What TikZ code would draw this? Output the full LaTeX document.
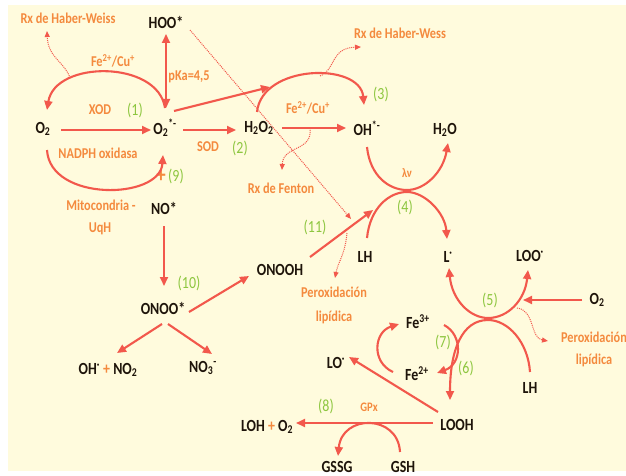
\documentclass[tikz,border=0pt]{standalone}
\usepackage{fontspec}
\setmainfont{Carlito}[FakeStretch=0.82]
\usetikzlibrary{arrows.meta}
\definecolor{bg}{RGB}{255,251,221}
\definecolor{rd}{RGB}{242,88,76}
\definecolor{og}{RGB}{244,138,62}
\definecolor{gn}{RGB}{141,198,63}
\definecolor{bk}{RGB}{30,20,10}
\tikzset{
 sp/.style={font=\fontsize{17}{17}\selectfont\bfseries, text=bk, inner sep=0pt},
 lab/.style={font=\fontsize{15}{15}\selectfont\bfseries, text=og, inner sep=0pt},
 num/.style={font=\fontsize{17}{17}\selectfont, text=gn, inner sep=0pt},
 rx/.style={draw=rd, line width=2.1pt, -{Triangle[length=9pt,width=8pt]}},
 rxb/.style={draw=rd, line width=2.1pt, {Triangle[length=9pt,width=8pt]}-{Triangle[length=9pt,width=8pt]}},
 dotarr/.style={draw=rd, line width=1pt, densely dotted, -{Triangle[length=6pt,width=5pt]}}
}
\begin{document}
\begin{tikzpicture}[x=1pt,y=-1pt]
\useasboundingbox (0,0) rectangle (626,476);
\fill[white] (0,0) rectangle (626,476);
\fill[bg] (8,5) rectangle (626,471);

% species
\node[sp] (hoo) at (166,22) {HOO*};
\node[sp] (o2a) at (43,129) {O\textsubscript{2}};
\node[sp] (o2r) at (165,128) {O\textsubscript{2}\textsuperscript{*-}};
\node[sp] (h2o2) at (259,128) {H\textsubscript{2}O\textsubscript{2}};
\node[sp] (oh) at (367,128) {OH\textsuperscript{*-}};
\node[sp] (h2o) at (445,130) {H\textsubscript{2}O};
\node[sp] (no) at (164,208) {NO*};
\node[sp] (lh1) at (365,257) {LH};
\node[sp] (lrad) at (448,257) {L\textsuperscript{·}};
\node[sp] (loo) at (530,256) {LOO\textsuperscript{·}};
\node[sp] (onooh) at (280,270) {ONOOH};
\node[sp] (onoo) at (163,308) {ONOO*};
\node[sp] (o2b) at (597,300) {O\textsubscript{2}};
\node[sp] (fe3) at (418,322) {Fe\textsuperscript{3+}};
\node[sp] (fe2) at (417,374) {Fe\textsuperscript{2+}};
\node[sp] (lo) at (336,363) {LO\textsuperscript{·}};
\node[sp] (lh2) at (530,388) {LH};
\node[sp] (ohno) at (108,370) {OH\textsuperscript{·} {\color{og}+} NO\textsubscript{2}};
\node[sp] (no3) at (203,368) {NO\textsubscript{3}\textsuperscript{-}};
\node[sp] (looh) at (457,425) {LOOH};
\node[sp] (loh) at (267,427) {LOH {\color{og}+} O\textsubscript{2}};
\node[sp] (gssg) at (337,467) {GSSG};
\node[sp] (gsh) at (403,467) {GSH};

% orange labels
\node[lab] (hw1) at (68,18) {Rx de Haber-Weiss};
\node[lab] (hw2) at (400,33) {Rx de Haber-Wess};
\node[lab] (fecu1) at (113,61) {Fe\textsuperscript{2+}/Cu\textsuperscript{+}};
\node[lab] (pka) at (189,77) {pKa=4,5};
\node[lab] (xod) at (100,110) {XOD};
\node[lab] (nadph) at (98,153) {NADPH oxidasa};
\node[lab] (sod) at (208,147) {SOD};
\node[lab] (fecu2) at (308,108) {Fe\textsuperscript{2+}/Cu\textsuperscript{+}};
\node[lab] (fenton) at (281,188) {Rx de Fenton};
\node[lab, font=\fontsize{13}{13}\selectfont\bfseries] (hv) at (407,173) {λν};
\node[lab] (mito) at (101,205) {Mitocondria -};
\node[lab] (uqh) at (100,229) {UqH};
\node[lab, font=\fontsize{23}{23}\selectfont\bfseries] (plus) at (161,176) {+};
\node[lab] (per1) at (334,292) {Peroxidación};
\node[lab] (lip1) at (334,317) {lipídica};
\node[lab] (per2) at (594,337) {Peroxidación};
\node[lab] (lip2) at (594,360) {lipídica};
\node[lab, font=\fontsize{13}{13}\selectfont\bfseries] (gpx) at (369,407) {GPx};

% green numbers
\node[num] (n1) at (135,110) {(1)};
\node[num] (n2) at (240,148) {(2)};
\node[num] (n3) at (381,94) {(3)};
\node[num] (n4) at (405,207) {(4)};
\node[num] (n5) at (490,300) {(5)};
\node[num] (n6) at (466,368) {(6)};
\node[num] (n7) at (443,342) {(7)};
\node[num] (n8) at (326,406) {(8)};
\node[num] (n9) at (176,176) {(9)};
\node[num] (n10) at (189,283) {(10)};
\node[num] (n11) at (315,227) {(11)};

% connector coordinates
\coordinate (a1s) at (61,130); \coordinate (a1e) at (151,130);
\coordinate (u1s) at (165,108); \coordinate (u1e) at (47,110);
\coordinate (l1s) at (47,150); \coordinate (l1e) at (163,155);
\coordinate (h1) at (166,34); \coordinate (h2) at (166,108);
\coordinate (w1s) at (70,78); \coordinate (w1e) at (47,31);
\coordinate (s1s) at (183,130); \coordinate (s1e) at (236,130);
\coordinate (d1s) at (174,111); \coordinate (d1e) at (270,87);
\coordinate (u2s) at (257,112); \coordinate (u2e) at (364,105);
\coordinate (w2s) at (320,76); \coordinate (w2e) at (361,47);
\coordinate (s2s) at (282,128); \coordinate (s2e) at (346,128);
\coordinate (w3s) at (310,128); \coordinate (w3e) at (282,170);
\coordinate (dl1) at (190,30); \coordinate (dl2) at (351,219);
\coordinate (c4a) at (367,147); \coordinate (c4t) at (407,190); \coordinate (c4b) at (448,143);
\coordinate (c4c) at (367,238); \coordinate (c4u) at (407,192); \coordinate (c4d) at (447,239);
\coordinate (o1s) at (310,257); \coordinate (o1e) at (373,210);
\coordinate (w4s) at (347,233); \coordinate (w4e) at (335,278);
\coordinate (v1s) at (164,226); \coordinate (v1e) at (164,286);
\coordinate (g1s) at (189,312); \coordinate (g1e) at (249,276);
\coordinate (g2s) at (162,324); \coordinate (g2e) at (117,353);
\coordinate (g3s) at (168,324); \coordinate (g3e) at (212,354);
\coordinate (c5a) at (449,268); \coordinate (c5t) at (488,318); \coordinate (c5b) at (528,270);
\coordinate (c5c) at (530,372); \coordinate (c5u) at (488,320); \coordinate (c5d) at (450,400);
\coordinate (r1s) at (582,300); \coordinate (r1e) at (523,300);
\coordinate (w5s) at (517,308); \coordinate (w5e) at (548,341);
\coordinate (f1s) at (444,325); \coordinate (f1e) at (437,373);
\coordinate (f2s) at (393,372); \coordinate (f2e) at (399,324);
\coordinate (k1s) at (438,412); \coordinate (k1e) at (349,357);
\coordinate (k2s) at (433,423); \coordinate (k2e) at (296,423);
\coordinate (k3s) at (400,452); \coordinate (k3e) at (338,456);

% red arrows
\draw[rx] (a1s) -- (a1e);
\draw[rx] (u1s) .. controls (158,60) and (55,60) .. (u1e);
\draw[rx] (l1s) .. controls (50,202) and (160,200) .. (l1e);
\draw[rxb] (h1) -- (h2);
\draw[rx] (s1s) -- (s1e);
\draw[rx] (d1s) -- (d1e);
\draw[rx] (u2s) .. controls (262,64) and (360,62) .. (u2e);
\draw[rx] (s2s) -- (s2e);
\draw[rx] (c4a) .. controls (370,176) and (389,190) .. (c4t) .. controls (425,190) and (443,172) .. (c4b);
\draw[rx] (c4c) .. controls (370,208) and (389,192) .. (c4u) .. controls (425,192) and (445,213) .. (c4d);
\draw[rx] (o1s) -- (o1e);
\draw[rx] (v1s) -- (v1e);
\draw[rx] (g1s) -- (g1e);
\draw[rx] (g2s) -- (g2e);
\draw[rx] (g3s) -- (g3e);
\draw[rxb] (c5a) .. controls (452,300) and (470,318) .. (c5t) .. controls (508,318) and (525,300) .. (c5b);
\draw[rx] (c5c) .. controls (528,342) and (508,320) .. (c5u) .. controls (462,320) and (450,350) .. (c5d);
\draw[rx] (r1s) -- (r1e);
\draw[rx] (f1s) .. controls (463,335) and (462,364) .. (f1e);
\draw[rx] (f2s) .. controls (371,362) and (374,332) .. (f2e);
\draw[rx] (k1s) -- (k1e);
\draw[rx] (k2s) -- (k2e);
\draw[rx] (k3s) .. controls (398,414) and (342,414) .. (k3e);

% dotted arrows
\draw[dotarr] (w1s) .. controls (65,62) and (48,58) .. (w1e);
\draw[dotarr] (w2s) .. controls (336,70) and (330,48) .. (w2e);
\draw[dotarr] (w3s) .. controls (313,152) and (283,145) .. (w3e);
\draw[dotarr] (dl1) -- (dl2);
\draw[dotarr] (w4s) .. controls (345,255) and (338,262) .. (w4e);
\draw[dotarr] (w5s) .. controls (535,310) and (530,338) .. (w5e);
\end{tikzpicture}
\end{document}
